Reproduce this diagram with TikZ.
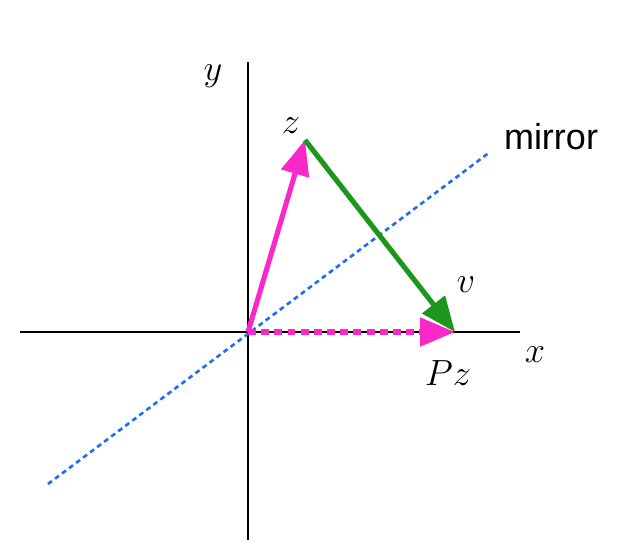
\documentclass[tikz,border=0pt]{standalone}
\usepackage{fontspec}
\newfontfamily\labelfont{Liberation Sans}
\usetikzlibrary{arrows.meta}
\definecolor{vecpink}{RGB}{250,40,200}
\definecolor{vecgreen}{RGB}{30,150,30}
\definecolor{mirrorblue}{RGB}{30,110,240}
\begin{document}
\begin{tikzpicture}[x=0.02cm, y=-0.02cm, line join=round,
		vec/.style={line width=2.9pt, -{Triangle[length=0.7cm, width=0.56cm]}},
		lbl/.style={font=\fontsize{22}{26}\selectfont}]
			\useasboundingbox (0,0) rectangle (618,556);
			\coordinate (O) at (248,332);
			\coordinate (Z) at (305,140);
			\coordinate (PZ) at (455,332);
			\coordinate (xl) at (20,332);
			\coordinate (xr) at (520,332);
			\coordinate (yb) at (248,540);
			\coordinate (yt) at (248,62);
			\coordinate (ma) at (48,484);
			\coordinate (mb) at (490,152);
			\draw[line width=1.1pt] (xl) -- (xr);
			\draw[line width=1.1pt] (yb) -- (yt);
			\draw[mirrorblue, line width=1.5pt, dash pattern=on 2.8pt off 2.2pt] (ma) -- (mb);
			\draw[vec, vecpink, dash pattern=on 4.5pt off 3pt] (O) -- (PZ);
			\draw[vec, vecpink] (O) -- (Z);
			\draw[vec, vecgreen] (Z) -- (PZ);
			\node[lbl] (ylab) at (213,76) {$y$};
			\node[lbl] (xlab) at (535,355) {$x$};
			\node[lbl] (zlab) at (291,126) {$z$};
			\node[lbl] (vlab) at (466,285) {$v$};
			\node[lbl] (pzlab) at (448,373) {$Pz$};
			\node[font=\labelfont\fontsize{20.5}{24}\selectfont] (mlab) at (551,137) {mirror};
		\end{tikzpicture}
\end{document}
